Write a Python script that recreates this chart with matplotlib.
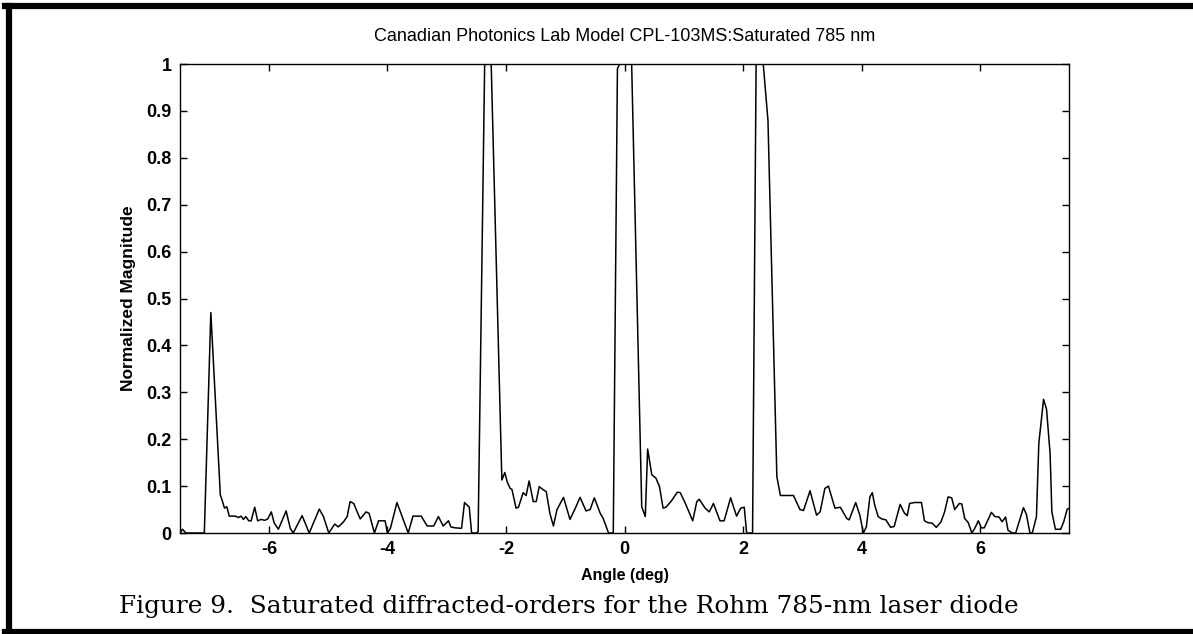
import matplotlib
matplotlib.use("Agg")
import matplotlib.pyplot as plt
from matplotlib.lines import Line2D

# angle (deg) and normalized magnitude
angle = [-7.50, -7.46, -7.40, -7.09, -6.98, -6.82, -6.79, -6.75, -6.71, -6.67,
         -6.57, -6.51, -6.47, -6.43, -6.39, -6.34, -6.30, -6.24, -6.19, -6.13,
         -6.07, -6.02, -5.96, -5.91, -5.84, -5.71, -5.64, -5.59, -5.44, -5.32,
         -5.15, -5.08, -4.99, -4.89, -4.83, -4.74, -4.68, -4.63, -4.57, -4.50,
         -4.46, -4.36, -4.31, -4.22, -4.15, -4.04, -4.00, -3.95, -3.84, -3.65,
         -3.57, -3.50, -3.43, -3.33, -3.22, -3.14, -3.06, -2.97, -2.93, -2.86,
         -2.75, -2.70, -2.62, -2.58, -2.50, -2.47, -2.36, -2.25, -2.07, -2.02,
         -1.98, -1.93, -1.90, -1.83, -1.79, -1.71, -1.66, -1.61, -1.54, -1.49,
         -1.44, -1.38, -1.32, -1.26, -1.20, -1.14, -1.03, -0.92, -0.83, -0.75,
         -0.65, -0.58, -0.51, -0.41, -0.36, -0.27, -0.19, -0.12, -0.08, 0.05,
         0.12, 0.29, 0.35, 0.39, 0.46, 0.53, 0.59, 0.65, 0.70, 0.80,
         0.89, 0.94, 1.02, 1.15, 1.22, 1.26, 1.36, 1.43, 1.50, 1.61,
         1.68, 1.79, 1.89, 1.96, 2.02, 2.06, 2.16, 2.22, 2.34, 2.42,
         2.57, 2.63, 2.85, 2.96, 3.02, 3.13, 3.24, 3.30, 3.38, 3.44,
         3.55, 3.64, 3.75, 3.79, 3.90, 3.97, 4.03, 4.08, 4.14, 4.18,
         4.22, 4.28, 4.34, 4.41, 4.49, 4.55, 4.65, 4.72, 4.77, 4.81,
         4.89, 5.01, 5.06, 5.12, 5.19, 5.26, 5.34, 5.40, 5.46, 5.52,
         5.57, 5.65, 5.69, 5.74, 5.80, 5.86, 5.91, 5.97, 6.02, 6.07,
         6.19, 6.25, 6.32, 6.37, 6.43, 6.47, 6.54, 6.60, 6.73, 6.78,
         6.84, 6.88, 6.95, 6.99, 7.07, 7.12, 7.18, 7.21, 7.27, 7.36,
         7.41, 7.47, 7.51]
magnitude = [0.0, 0.008, 0.0, 0.0, 0.47, 0.081, 0.070, 0.053, 0.056, 0.036,
             0.036, 0.033, 0.036, 0.029, 0.035, 0.026, 0.026, 0.055, 0.026, 0.029,
             0.027, 0.030, 0.045, 0.021, 0.008, 0.047, 0.010, 0.0, 0.037, 0.0,
             0.051, 0.035, 0.0, 0.019, 0.013, 0.024, 0.035, 0.067, 0.063, 0.042,
             0.030, 0.045, 0.042, 0.0, 0.026, 0.026, 0.0, 0.010, 0.065, 0.0,
             0.036, 0.036, 0.036, 0.015, 0.015, 0.035, 0.015, 0.026, 0.013, 0.011,
             0.010, 0.065, 0.055, 0.0, 0.0, 0.003, 1.0, 1.0, 0.113, 0.129,
             0.109, 0.095, 0.093, 0.053, 0.055, 0.086, 0.080, 0.111, 0.067, 0.067,
             0.099, 0.093, 0.088, 0.042, 0.015, 0.050, 0.076, 0.029, 0.053, 0.076,
             0.047, 0.050, 0.075, 0.042, 0.031, 0.0, 0.0, 0.99, 1.0, 1.0,
             1.0, 0.056, 0.035, 0.179, 0.124, 0.117, 0.099, 0.053, 0.055, 0.070,
             0.087, 0.086, 0.065, 0.026, 0.067, 0.072, 0.053, 0.045, 0.063, 0.026,
             0.026, 0.075, 0.036, 0.053, 0.055, 0.0, 0.0, 1.0, 1.0, 0.88,
             0.12, 0.080, 0.080, 0.050, 0.048, 0.090, 0.038, 0.045, 0.095, 0.100,
             0.053, 0.055, 0.031, 0.028, 0.065, 0.038, 0.0, 0.013, 0.077, 0.086,
             0.060, 0.035, 0.030, 0.028, 0.012, 0.014, 0.061, 0.043, 0.037, 0.063,
             0.065, 0.065, 0.026, 0.022, 0.021, 0.012, 0.024, 0.045, 0.077, 0.075,
             0.050, 0.063, 0.062, 0.031, 0.022, 0.0, 0.010, 0.026, 0.011, 0.011,
             0.044, 0.035, 0.034, 0.024, 0.034, 0.006, 0.0, 0.0, 0.054, 0.040,
             0.0, 0.0, 0.035, 0.191, 0.285, 0.264, 0.170, 0.045, 0.008, 0.008,
             0.024, 0.051, 0.053]

xticks = [-6, -4, -2, 0, 2, 4, 6]
yticks = [0, 0.1, 0.2, 0.3, 0.4, 0.5, 0.6, 0.7, 0.8, 0.9, 1]
ytick_labels = ["0", "0.1", "0.2", "0.3", "0.4", "0.5", "0.6", "0.7", "0.8", "0.9", "1"]

plt.rcParams['font.family'] = ['Liberation Sans', 'DejaVu Sans']

fig = plt.figure(figsize=(11.93, 6.34), dpi=100)
ax = fig.add_axes([0.1509, 0.1593, 0.7452, 0.7397])

ax.plot(angle, magnitude, color='black', linewidth=1.1, clip_on=True)
ax.set_xlim(-7.5, 7.5)
ax.set_ylim(0, 1)
ax.set_xticks(xticks)
ax.set_xticklabels([str(t) for t in xticks], fontweight='bold')
ax.set_yticks(yticks)
ax.set_yticklabels(ytick_labels, fontweight='bold')
ax.tick_params(direction='in', length=5, width=1, labelsize=13,
               top=True, right=True, pad=6, colors='black')
for s in ax.spines.values():
    s.set_linewidth(1.0)

fig.text(0.5235, 0.093, "Angle (deg)", ha='center', va='center',
         fontsize=11.5, fontweight='bold')
fig.text(0.1073, 0.530, "Normalized Magnitude", ha='center', va='center',
         rotation=90, fontsize=12.5, fontweight='bold')
fig.text(0.5235, 0.942, "Canadian Photonics Lab Model CPL-103MS:Saturated 785 nm",
         ha='center', va='center', fontsize=13)

fig.text(0.4765, 0.044, "Figure 9.  Saturated diffracted-orders for the Rohm 785-nm laser diode",
         ha='center', va='center', fontsize=17.8, family='DejaVu Serif')

# thick frame around the scanned figure (left, top, bottom)
fig.add_artist(Line2D([0.0075, 0.0075], [0.003, 0.990], transform=fig.transFigure,
                      color='black', linewidth=4.5))
fig.add_artist(Line2D([0.004, 1.0], [0.990, 0.990], transform=fig.transFigure,
                      color='black', linewidth=4.5))
fig.add_artist(Line2D([0.004, 1.0], [0.003, 0.003], transform=fig.transFigure,
                      color='black', linewidth=4.5))

fig.savefig("out.png", dpi=100)
